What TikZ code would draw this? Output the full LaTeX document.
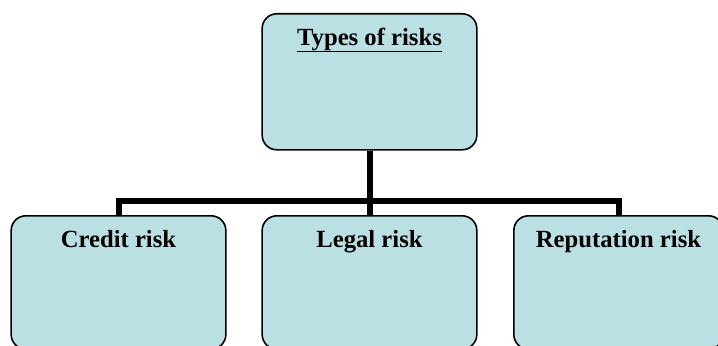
\documentclass[tikz,border=0pt]{standalone}
\usepackage{fontspec}
\setmainfont{Liberation Serif}
\definecolor{boxfill}{RGB}{187,224,227}
\newcommand\thickul[1]{\setbox0\hbox{#1}\rlap{\rule[-5pt]{\wd0}{1.4pt}}\box0}
\tikzset{
  riskbox/.style={draw=black, line width=1.2pt, fill=boxfill, rounded corners=11pt,
    anchor=north, inner xsep=0pt, inner ysep=12pt, text height=12pt,
    font=\fontsize{18.5}{22}\selectfont\bfseries},
  link/.style={line width=4.5pt}
}
\begin{document}
\begin{tikzpicture}[x=0.75pt,y=-0.75pt]
        \useasboundingbox (0,0) rectangle (718,346);

        \node[riskbox, minimum width=161pt, text depth=66pt] (types) at (369.5,13) {\thickul{Types of risks}};
        \node[riskbox, minimum width=161pt, text depth=64pt] (credit) at (118.5,215) {Credit risk};
        \node[riskbox, minimum width=161pt, text depth=64pt] (legal) at (369.5,215) {Legal risk};
        \node[riskbox, minimum width=157pt, text depth=64pt] (reputation) at (618.5,215) {Reputation risk};
        \coordinate (bus) at (369.5,201);

        \draw[link] (types.south) -- (bus);
        \draw[link] (legal.north) -- (bus);
        \draw[link] (credit.north) |- (bus) -| (reputation.north);
      \end{tikzpicture}
\end{document}
